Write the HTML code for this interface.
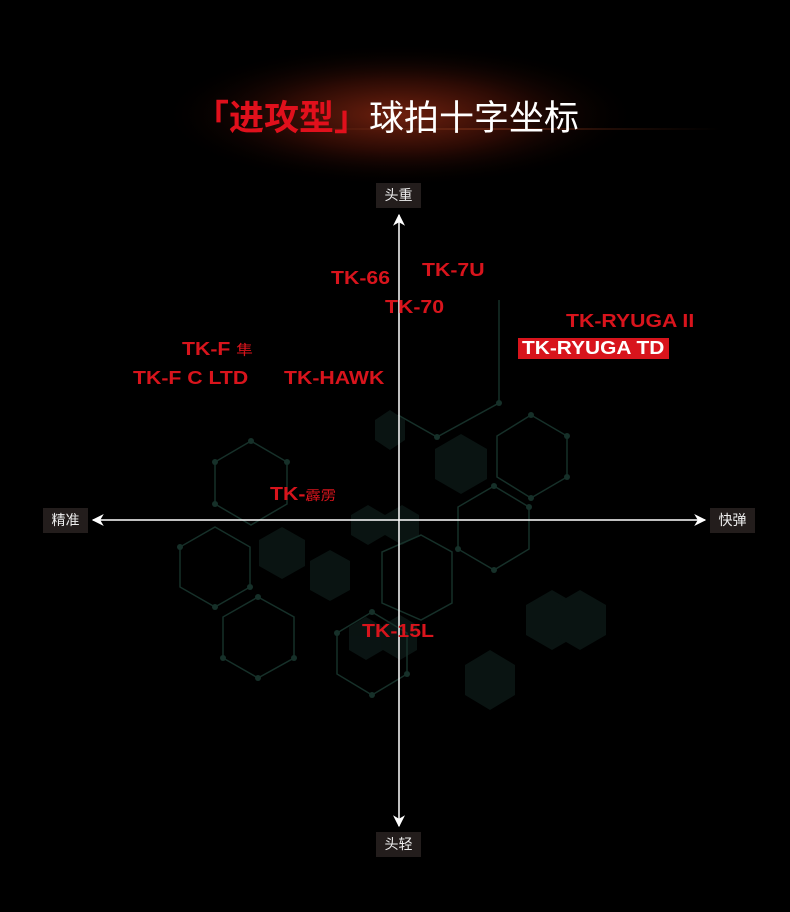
<!DOCTYPE html>
<html><head><meta charset="utf-8"><style>
html,body{margin:0;padding:0;background:#000;}
#c{position:relative;width:790px;height:912px;overflow:hidden;background:#000;font-family:"Liberation Sans","Noto Sans CJK SC",sans-serif;}
.t{position:absolute;color:#d8141c;font-weight:bold;font-size:18px;white-space:nowrap;line-height:20px;transform:scaleX(1.18);transform-origin:0 50%;}
.lb{position:absolute;background:#231d1c;color:#eee;font-size:14px;width:45px;height:25px;line-height:25px;text-align:center;font-family:"Noto Sans CJK SC",sans-serif;}
</style></head><body><div id="c">
<svg width="790" height="912" style="position:absolute;left:0;top:0">
<defs>
<radialGradient id="g" cx="400" cy="115" r="240" gradientUnits="userSpaceOnUse" gradientTransform="translate(400 115) scale(1 0.3) translate(-400 -115)">
<stop offset="0" stop-color="#6e200e"/><stop offset="0.5" stop-color="#2a0a04"/><stop offset="1" stop-color="#000" stop-opacity="0"/></radialGradient>
<linearGradient id="ln" x1="0" x2="1"><stop offset="0" stop-color="#6a2a14" stop-opacity="0"/><stop offset="0.5" stop-color="#7a3018"/><stop offset="1" stop-color="#6a2a14" stop-opacity="0"/></linearGradient>
<marker id="a" viewBox="0 0 10 10" refX="9" refY="5" markerWidth="8" markerHeight="8" orient="auto-start-reverse"><path d="M0,0 L10,5 L0,10 L3,5z" fill="#fff"/></marker>
</defs>
<rect x="0" y="30" width="790" height="170" fill="url(#g)"/>
<rect x="250" y="128" width="470" height="2" fill="url(#ln)" opacity="0.6"/>
<g fill="#0c1816" opacity="0.85">
<polygon points="461,434 487,449 487,479 461,494 435,479 435,449"/>
<polygon points="282,527 305,540 305,566 282,579 259,566 259,540"/>
<polygon points="366,617 383,627 383,650 366,660 349,650 349,627"/>
<polygon points="400,615 417,625 417,650 400,660 383,650 383,625"/>
<polygon points="552,590 578,605 578,635 552,650 526,635 526,605"/>
<polygon points="580,590 606,605 606,635 580,650 554,635 554,605"/>
<polygon points="368,505 385,515 385,535 368,545 351,535 351,515"/>
<polygon points="402,505 419,515 419,535 402,545 385,535 385,515"/>
<polygon points="330,550 350,561 350,590 330,601 310,590 310,561"/>
<polygon points="490,650 515,665 515,695 490,710 465,695 465,665"/>
<polygon points="390,410 405,420 405,440 390,450 375,440 375,420"/>
</g>
<g fill="none" stroke="#163029" stroke-width="1.5">
<polygon points="251,441 287,462 287,504 251,525 215,504 215,462"/>
<polygon points="215,527 250,547 250,587 215,607 180,587 180,547"/>
<polygon points="258,597 294,617 294,658 258,678 223,658 223,617"/>
<polygon points="372,612 407,633 407,674 372,695 337,674 337,633"/>
<polygon points="494,486 529,507 529,549 494,570 458,549 458,507"/>
<polygon points="531,415 567,436 567,477 531,498 497,477 497,436"/>
<polygon points="421,535 452,552 452,603 421,620 382,603 382,552"/>
<polyline points="499,300 499,403 437,437 398,415"/>
</g>
<g fill="#163029">
<circle cx="251" cy="441" r="3"/><circle cx="287" cy="462" r="3"/><circle cx="215" cy="504" r="3"/><circle cx="215" cy="462" r="3"/>
<circle cx="180" cy="547" r="3"/><circle cx="250" cy="587" r="3"/><circle cx="215" cy="607" r="3"/>
<circle cx="258" cy="597" r="3"/><circle cx="294" cy="658" r="3"/><circle cx="223" cy="658" r="3"/><circle cx="258" cy="678" r="3"/>
<circle cx="372" cy="612" r="3"/><circle cx="337" cy="633" r="3"/><circle cx="407" cy="674" r="3"/><circle cx="372" cy="695" r="3"/>
<circle cx="494" cy="486" r="3"/><circle cx="529" cy="507" r="3"/><circle cx="458" cy="549" r="3"/><circle cx="494" cy="570" r="3"/>
<circle cx="531" cy="415" r="3"/><circle cx="567" cy="436" r="3"/><circle cx="567" cy="477" r="3"/><circle cx="531" cy="498" r="3"/>
<circle cx="499" cy="403" r="3"/><circle cx="437" cy="437" r="3"/>
</g>
<line x1="399" y1="826" x2="399" y2="215" stroke="#fff" stroke-width="1.5" marker-end="url(#a)" marker-start="url(#a)"/>
<line x1="93" y1="520" x2="705" y2="520" stroke="#fff" stroke-width="1.5" marker-end="url(#a)" marker-start="url(#a)"/>
</svg>
<div style="position:absolute;left:194px;top:94px;font-size:35px;line-height:44px;font-family:'Noto Sans CJK SC',sans-serif;white-space:nowrap;"><span style="color:#e0101c;font-weight:bold;">「进攻型」</span><span style="color:#fff;">球拍十字坐标</span></div>
<div class="lb" style="left:376px;top:183px">头重</div>
<div class="lb" style="left:376px;top:832px">头轻</div>
<div class="lb" style="left:43px;top:508px">精准</div>
<div class="lb" style="left:710px;top:508px">快弹</div>
<div class="t" style="left:331px;top:268px">TK-66</div>
<div class="t" style="left:422px;top:260px">TK-7U</div>
<div class="t" style="left:385px;top:297px">TK-70</div>
<div class="t" style="left:566px;top:311px">TK-RYUGA II</div>
<div style="position:absolute;left:518px;top:338px;width:151px;height:21px;background:#d8141c"></div>
<div class="t" style="left:522px;top:338px;color:#fff;line-height:21px;transform:scaleX(1.16)">TK-RYUGA TD</div>
<div class="t" style="left:182px;top:339px">TK-F <span style="font-weight:normal;font-size:14px">隼</span></div>
<div class="t" style="left:133px;top:368px">TK-F C LTD</div>
<div class="t" style="left:284px;top:368px">TK-HAWK</div>
<div class="t" style="left:270px;top:484px">TK-<span style="font-weight:normal;font-size:13px">霹雳</span></div>
<div class="t" style="left:362px;top:621px">TK-15L</div>
</div></body></html>
